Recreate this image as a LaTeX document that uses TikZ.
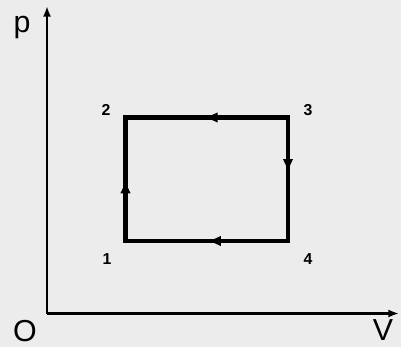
\documentclass[tikz,border=0pt]{standalone}
\usepackage{fontspec}
\setmainfont{Liberation Sans}
\usetikzlibrary{arrows.meta,decorations.markings}
\definecolor{bggrey}{RGB}{236,236,236}

\begin{document}
\begin{tikzpicture}[
  x=0.02cm, y=-0.02cm,
  >=Latex,
  axis/.style={line width=1.5pt,-{Latex[length=6pt,width=4.5pt]}},
  path/.style={line width=2.5pt,
    postaction={decorate},
    decoration={markings,
      mark=at position #1 with {\arrow{Latex[length=8pt,width=6pt]}}}},
  path/.default=0.5,
  state/.style={font=\small\bfseries},
  every node/.style={inner sep=0pt}
]
% background
\fill[bggrey] (0,0) rectangle (401,347);
\useasboundingbox (0,0) rectangle (401,347);

% axes
\coordinate (o) at (47,313.5);
\coordinate (ptop) at (47,6);
\coordinate (vend) at (399,313.5);
\draw[axis] (o) -- (ptop);
\draw[axis] (o) -- (vend);
\node[font=\LARGE] (lp) at (22,27) {p};
\node[font=\LARGE] (lo) at (25,331) {O};
\node[font=\LARGE] (lv) at (383,330) {V};

% states
\coordinate (s1) at (125.5,241);
\coordinate (s2) at (125.5,117.5);
\coordinate (s3) at (288,117.5);
\coordinate (s4) at (288,241);
\node[state] (l1) at (107,259) {1};
\node[state] (l2) at (106,110) {2};
\node[state] (l3) at (308,110) {3};
\node[state] (l4) at (308,259) {4};

% cycle
\draw[path] (s1) -- (s2);
\draw[path=0.52] (s3) -- (s2);
\draw[path=0.45] (s3) -- (s4);
\draw[path=0.5] (s4) -- (s1);
\draw[line width=2.5pt,line join=miter] (s1) -- (s2) -- (s3) -- (s4) -- cycle;

\end{tikzpicture}
\end{document}
